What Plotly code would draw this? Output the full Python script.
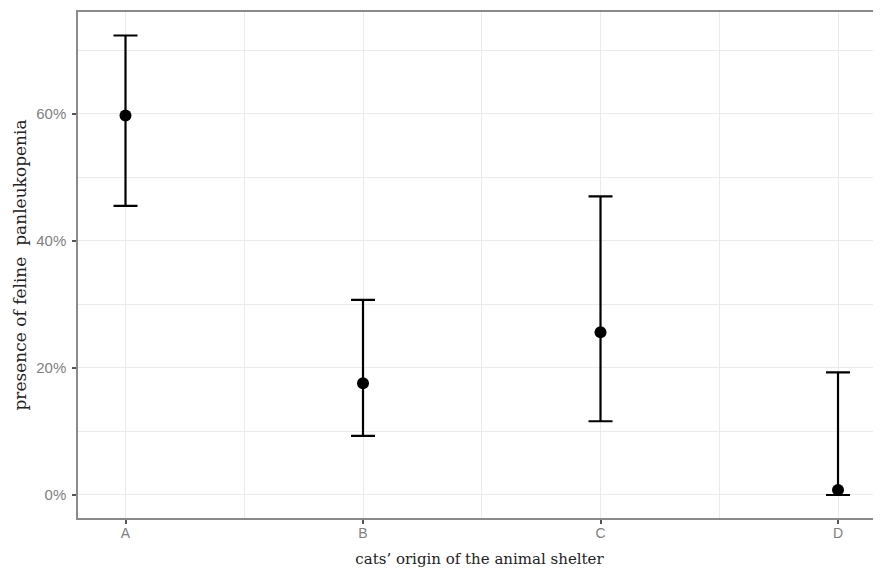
import plotly.graph_objects as go

categories = ["A", "B", "C", "D"]
estimate = [0.597, 0.176, 0.256, 0.008]
upper = [0.723, 0.307, 0.470, 0.193]
lower = [0.455, 0.093, 0.116, 0.0]

xpos = list(range(len(categories)))
err_plus = [u - e for u, e in zip(upper, estimate)]
err_minus = [e - l for e, l in zip(estimate, lower)]

fig = go.Figure()
fig.add_trace(go.Scatter(
    x=xpos, y=estimate, mode="markers",
    marker=dict(color="black", size=12),
    error_y=dict(type="data", symmetric=False, array=err_plus, arrayminus=err_minus,
                 color="black", thickness=2.2, width=12),
    showlegend=False,
))

grid_col = "#EBEBEB"
tick_font = dict(family="Liberation Sans, Arial", size=15, color="#808080")
xtick_font = dict(family="Liberation Sans, Arial", size=14, color="#808080")
nb = "\u00a0"

fig.update_layout(
    width=873, height=564,
    margin=dict(l=70, r=0, t=4, b=54),
    paper_bgcolor="white", plot_bgcolor="white",
    xaxis=dict(
        range=[-0.2, 3.181], tickvals=xpos, ticktext=categories,
        showgrid=True, gridcolor=grid_col, gridwidth=1.2,
        minor=dict(tick0=0.5, dtick=1, showgrid=True, gridcolor=grid_col, gridwidth=0.6),
        showline=True, linecolor="#8a8a8a", linewidth=1.5, mirror=True,
        ticks="outside", ticklen=4, tickcolor="#555", tickwidth=1.5,
        tickfont=xtick_font, zeroline=False, ticklabelstandoff=-3,
        title=dict(text="cats\u2019 origin of the animal shelter",
                   font=dict(family="DejaVu Serif, Liberation Serif", size=15, color="#222"),
                   standoff=14),
    ),
    yaxis=dict(
        range=[-0.0362, 0.760], tickvals=[0, 0.2, 0.4, 0.6], tickformat=".0%",
        showgrid=True, gridcolor=grid_col, gridwidth=1.2,
        minor=dict(tick0=0.1, dtick=0.2, showgrid=True, gridcolor=grid_col, gridwidth=0.6),
        showline=True, linecolor="#8a8a8a", linewidth=1.5, mirror=False,
        ticks="outside", ticklen=4, tickcolor="#555", tickwidth=1.5,
        tickfont=tick_font, zeroline=False, ticklabelstandoff=3,
        title=dict(text="presence of feline  panleukopenia" + nb * 3,
                   font=dict(family="DejaVu Serif, Liberation Serif", size=17, color="#222"),
                   standoff=5),
    ),
)

fig.write_html("out.html")
